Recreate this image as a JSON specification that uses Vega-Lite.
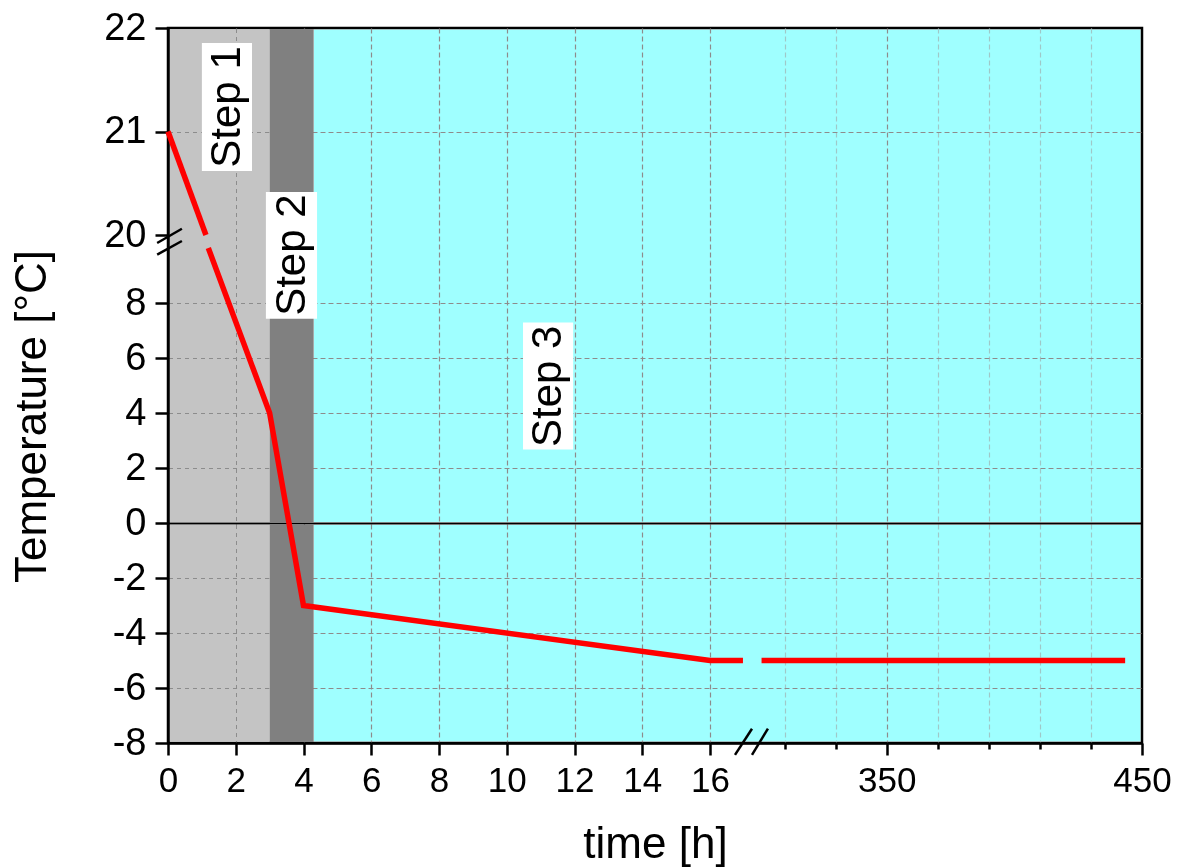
{
  "$schema": "https://vega.github.io/schema/vega-lite/v6.json",
  "width": 974,
  "height": 715,
  "autosize": {"type": "none"},
  "padding": {"left": 168, "top": 28, "right": 38, "bottom": 125},
  "background": "white",
  "config": {
    "font": "Liberation Sans",
    "view": {"stroke": "black", "strokeWidth": 2.5},
    "axisX": {"labelOverlap": false},
    "axisQuantitative": {"labelOverlap": false}
  },
  "datasets": {
    "steps": [
      {"step": "Step 1", "start": 0, "end": 3},
      {"step": "Step 2", "start": 3, "end": 4.3},
      {"step": "Step 3", "start": 4.3, "end": 450}
    ],
    "temperature": [
      {"seg": "a", "t": 0, "temp": 21},
      {"seg": "a", "t": 1.12, "temp": 20.0},
      {"seg": "b", "t": 1.19, "temp": 10},
      {"seg": "b", "t": 3, "temp": 4},
      {"seg": "b", "t": 4, "temp": -3},
      {"seg": "b", "t": 16, "temp": -5},
      {"seg": "b", "t": 207, "temp": -5},
      {"seg": "c", "t": 301, "temp": -5},
      {"seg": "c", "t": 443.4, "temp": -5}
    ],
    "breaks": [
      {"x": 160.9, "x2": 259.4, "y": -8.43, "y2": -7.48},
      {"x": 259.4, "x2": 303.5, "y": -8.43, "y2": -7.48},
      {"x": -0.32, "x2": 0.41, "y": 13.85, "y2": 20.06},
      {"x": -0.32, "x2": 0.41, "y": 9.76, "y2": 15.4}
    ],
    "labels": [
      {"label": "Step 1", "t": 1.74, "temp": 21.237, "x0": 1.0, "x1": 2.48, "y0": 20.618, "y1": 21.855},
      {"label": "Step 2", "t": 3.65, "temp": 9.74, "x0": 2.89, "x1": 4.4, "y0": 7.43, "y1": 20.415},
      {"label": "Step 3", "t": 11.22, "temp": 4.97, "x0": 10.48, "x1": 11.96, "y0": 2.67, "y1": 7.29}
    ]
  },
  "layer": [
    {
      "data": {"name": "steps"},
      "mark": {"type": "rect", "blend": "darken"},
      "encoding": {
        "x": {
          "field": "start",
          "type": "quantitative",
          "scale": {"domain": [0, 16, 300, 450], "range": [0, 542, 591, 974], "nice": false, "zero": false},
          "axis": {
            "values": [0, 1, 2, 3, 4, 5, 6, 7, 8, 9, 10, 11, 12, 13, 14, 15, 16, 300, 310, 320, 330, 340, 350, 360, 370, 380, 390, 400, 410, 420, 430, 440, 450],
            "labelExpr": "(datum.value < 17 && abs(datum.value / 2 - round(datum.value / 2)) < 0.001) || (datum.value > 299 && abs(datum.value / 50 - round(datum.value / 50)) < 0.001) ? '' + round(datum.value) : ''",
            "labelFont": "Liberation Sans",
            "labelFontSize": 35,
            "labelColor": "black",
            "labelOverlap": false,
            "labelFlush": false,
            "labelBound": false,
            "labelPadding": {"condition": {"test": "(datum.value < 17 && abs(datum.value / 2 - round(datum.value / 2)) < 0.001) || (datum.value > 299 && abs(datum.value / 50 - round(datum.value / 50)) < 0.001)", "value": 8}, "value": 400},
            "domainColor": "black",
            "domainWidth": 2.5,
            "tickColor": "black",
            "tickWidth": 2.5,
            "tickSize": {"condition": {"test": "(datum.value < 17 && abs(datum.value / 2 - round(datum.value / 2)) < 0.001) || (datum.value > 299 && abs(datum.value / 50 - round(datum.value / 50)) < 0.001)", "value": 12}, "value": 6},
            "grid": true,
            "gridColor": {"condition": {"test": "(datum.value < 17 && abs(datum.value / 2 - round(datum.value / 2)) < 0.001) || (datum.value > 299 && abs(datum.value / 50 - round(datum.value / 50)) < 0.001)", "value": "#8c8c8c"}, "value": "#c8c8c8"},
            "gridDash": [5, 3],
            "gridWidth": 1.2,
            "gridOpacity": {"condition": {"test": "abs(datum.value) < 0.01 || abs(datum.value - 300) < 0.01 || abs(datum.value - 450) < 0.01", "value": 0}, "value": 1},
            "title": "time [h]",
            "titleFont": "Liberation Sans",
            "titleFontSize": 44,
            "titleFontWeight": "normal",
            "titleColor": "black",
            "titleX": 487,
            "titleY": 114,
            "titleAlign": "center",
            "titleBaseline": "alphabetic"
          }
        },
        "x2": {"field": "end"},
        "color": {
          "field": "step",
          "type": "nominal",
          "scale": {"domain": ["Step 1", "Step 2", "Step 3"], "range": ["#c4c4c4", "#808080", "#9fffff"]},
          "legend": null
        }
      }
    },
    {
      "data": {"name": "temperature"},
      "mark": {"type": "line", "color": "#ff0000", "strokeWidth": 5.5, "strokeCap": "butt"},
      "encoding": {
        "x": {"field": "t", "type": "quantitative"},
        "y": {
          "field": "temp",
          "type": "quantitative",
          "scale": {"domain": [-8, 10, 20, 22], "range": [715, 220, 207, 0], "nice": false, "zero": false},
          "axis": {
            "values": [-8, -7, -6, -5, -4, -3, -2, -1, 0, 1, 2, 3, 4, 5, 6, 7, 8, 9, 20, 20.5, 21, 21.5, 22],
            "labelExpr": "(datum.value < 10 && abs(datum.value / 2 - round(datum.value / 2)) < 0.001) || (datum.value > 19.9 && abs(datum.value - round(datum.value)) < 0.001) ? '' + round(datum.value) : ''",
            "labelFont": "Liberation Sans",
            "labelFontSize": 38,
            "labelColor": "black",
            "labelOverlap": false,
            "labelFlush": false,
            "labelBound": false,
            "labelPadding": 9,
            "domainColor": "black",
            "domainWidth": 2.5,
            "tickColor": "black",
            "tickWidth": 2.5,
            "tickSize": {"condition": {"test": "(datum.value < 10 && abs(datum.value / 2 - round(datum.value / 2)) < 0.001) || (datum.value > 19.9 && abs(datum.value - round(datum.value)) < 0.001)", "value": 13}, "value": 7},
            "grid": true,
            "gridColor": {"condition": {"test": "abs(datum.value) < 0.001", "value": "black"}, "value": "#8c8c8c"},
            "gridWidth": {"condition": {"test": "abs(datum.value) < 0.001", "value": 2.2}, "value": 1.2},
            "gridDash": {"condition": {"test": "abs(datum.value) < 0.001", "value": []}, "value": [5, 3]},
            "gridOpacity": {"condition": {"test": "(datum.value > -7.9 && datum.value < 10 && abs(datum.value / 2 - round(datum.value / 2)) < 0.001) || abs(datum.value - 21) < 0.001", "value": 1}, "value": 0},
            "title": "Temperature [°C]",
            "titleFont": "Liberation Sans",
            "titleFontSize": 44,
            "titleFontWeight": "normal",
            "titleColor": "black",
            "titleAngle": 270,
            "titleX": -123,
            "titleY": 388,
            "titleAlign": "center",
            "titleBaseline": "alphabetic"
          }
        },
        "detail": {"field": "seg", "type": "nominal"}
      }
    },
    {
      "data": {"name": "breaks"},
      "mark": {"type": "rule", "color": "black", "strokeWidth": 2.5},
      "encoding": {
        "x": {"field": "x", "type": "quantitative"},
        "x2": {"field": "x2"},
        "y": {"field": "y", "type": "quantitative"},
        "y2": {"field": "y2"}
      }
    },
    {
      "data": {"name": "labels"},
      "mark": {"type": "rect", "fill": "white"},
      "encoding": {
        "x": {"field": "x0", "type": "quantitative"},
        "x2": {"field": "x1"},
        "y": {"field": "y0", "type": "quantitative"},
        "y2": {"field": "y1"}
      }
    },
    {
      "data": {"name": "labels"},
      "mark": {"type": "text", "angle": 270, "fontSize": 42, "font": "Liberation Sans", "align": "center", "baseline": "middle", "color": "black"},
      "encoding": {
        "x": {"field": "t", "type": "quantitative"},
        "y": {"field": "temp", "type": "quantitative"},
        "text": {"field": "label"}
      }
    }
  ]
}
